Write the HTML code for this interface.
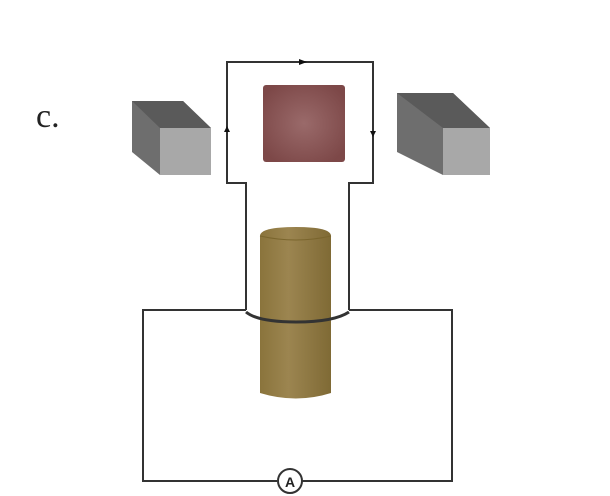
<!DOCTYPE html>
<html><head><style>body{margin:0;background:#fff}svg{display:block}</style></head><body>
<svg width="610" height="496" viewBox="0 0 610 496" xmlns="http://www.w3.org/2000/svg">
<defs>
<radialGradient id="rg" cx="0.5" cy="0.5" r="0.6"><stop offset="0" stop-color="#9a6a6a"/><stop offset="1" stop-color="#7d4848"/></radialGradient>
<linearGradient id="cyl" x1="0" x2="1"><stop offset="0" stop-color="#8a743c"/><stop offset="0.4" stop-color="#9c8550"/><stop offset="1" stop-color="#7f6a35"/></linearGradient>
</defs>
<text x="36" y="127" font-family="Liberation Serif, serif" font-size="34" fill="#222">c.</text>
<polygon points="132,101 183,101 211,128 211,175 160,175 132,152" fill="#6e6e6e"/>
<polygon points="132,101 183,101 211,128 160,128" fill="#5a5a5a"/>
<rect x="160" y="128" width="51" height="47" fill="#a8a8a8"/>
<polygon points="397,93 453,93 490,128 490,175 443,175 397,152" fill="#6e6e6e"/>
<polygon points="397,93 453,93 490,128 443,128" fill="#5a5a5a"/>
<rect x="443" y="128" width="47" height="47" fill="#a8a8a8"/>
<rect x="263" y="85" width="82" height="77" rx="3" fill="url(#rg)"/>
<g fill="none" stroke="#333" stroke-width="2">
<polyline points="246,310 246,183 227,183 227,62 373,62 373,183 349,183 349,310"/>
<polyline points="246,310 143,310 143,481 277,481"/>
<polyline points="349,310 452,310 452,481 301,481"/>
</g>
<g fill="#111">
<polygon points="299,59 307,62 299,65"/>
<polygon points="224,132 227,126 230,132"/>
<polygon points="370,131 373,137 376,131"/>
</g>
<path d="M260,236 Q260,227 296,227 Q331,227 331,236 L331,393 Q296,404 260,393 Z" fill="url(#cyl)"/>
<path d="M260,236 Q296,244 331,236" fill="none" stroke="#7a652d" stroke-width="1"/>
<path d="M246,312 Q258,322 296,322 Q334,322 349,312" fill="none" stroke="#333" stroke-width="3"/>
<circle cx="290" cy="481" r="12" fill="#fff" stroke="#333" stroke-width="2"/>
<text x="290" y="487" text-anchor="middle" font-family="Liberation Sans, sans-serif" font-weight="bold" font-size="14" fill="#222">A</text>
</svg>
</body></html>
